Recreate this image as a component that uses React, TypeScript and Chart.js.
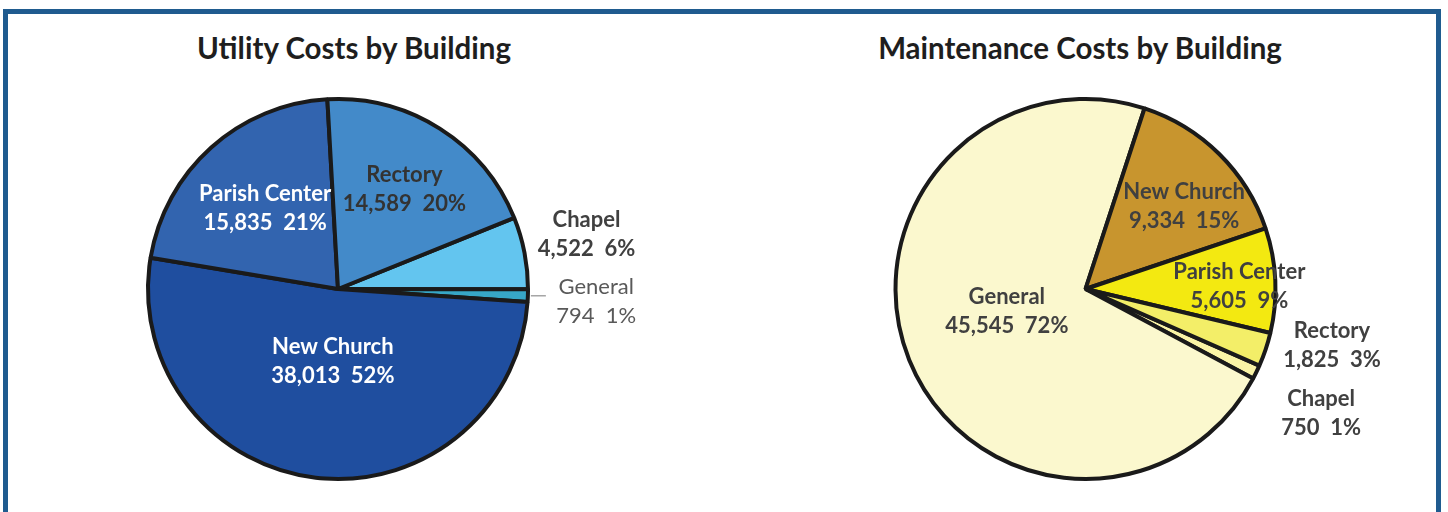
import React, { useEffect, useRef } from "react";
import { Chart, registerables } from "chart.js";

Chart.register(...registerables);

// ---------- data ----------
const buildings = ["Chapel", "General", "New Church", "Parish Center", "Rectory"];
const utilityValues = [4522, 794, 38013, 15835, 14589];
const maintenanceValues = [750, 45545, 9334, 5605, 1825];
const utilityTitle = "Utility Costs by Building";
const maintenanceTitle = "Maintenance Costs by Building";

// ---------- styles ----------
const utilityColors = ["#63C5EF", "#37A7C7", "#1F4E9F", "#3264AF", "#438AC9"];
const maintenanceColors = ["#FAF4A6", "#FBF8CE", "#C8952E", "#F3E911", "#F3EE68"];

const utilityTextColors = ["#404040", "#595959", "#FFFFFF", "#FFFFFF", "#333333"];
const utilityTextWeights = ["bold", "normal", "bold", "bold", "bold"];
const utilityLabelRadius = [1.34, 1.36, 0.38, 0.575, 0.635];
const utilityLabelShift = [-1.6, 0.5, -2.6, 0, 1.0];
const utilityLeader = [false, true, false, false, false];

const maintenanceTextColors = ["#404040", "#404040", "#404040", "#404040", "#404040"];
const maintenanceTextWeights = ["bold", "bold", "bold", "bold", "bold"];
const maintenanceLabelRadius = [1.4, 0.43, 0.68, 0.81, 1.33];
const maintenanceLabelShift = [1.7, 6.3, 5.0, 1.5, -5.9];
const maintenanceLeader = [false, false, false, false, false];

const FONT = "Lato, 'Open Sans', sans-serif";

type LabelOpts = {
  colors: string[];
  weights: string[];
  radius: number[];
  shift: number[];
  leader: boolean[];
  size: number;
  gap: number;
};

const sliceLabelPlugin = {
  id: "sliceLabels",
  afterDatasetsDraw(chart: any, _args: any, opts: LabelOpts) {
    const ctx: CanvasRenderingContext2D = chart.ctx;
    const meta = chart.getDatasetMeta(0);
    const values = chart.data.datasets[0].data as number[];
    const labels = chart.data.labels as string[];
    const total = values.reduce((a, b) => a + b, 0);
    ctx.save();
    meta.data.forEach((el: any, i: number) => {
      const p = el.getProps(["x", "y", "startAngle", "endAngle", "outerRadius"], true);
      const midRaw = (p.startAngle + p.endAngle) / 2;
      const mid = midRaw + (opts.shift[i] * Math.PI) / 180;
      const d = p.outerRadius * opts.radius[i];
      const ax = p.x + d * Math.cos(mid);
      const ay = p.y + d * Math.sin(mid);
      const pct = Math.round((values[i] / total) * 100);
      const line1 = labels[i];
      const line2 = `${values[i].toLocaleString("en-US")}  ${pct}%`;
      const cap = opts.size * 0.72;
      ctx.font = `${opts.weights[i]} ${opts.size}px ${FONT}`;
      ctx.fillStyle = opts.colors[i];
      ctx.textAlign = "center";
      ctx.textBaseline = "alphabetic";
      ctx.fillText(line1, ax, ay - opts.gap / 2 + cap / 2);
      ctx.fillText(line2, ax, ay + opts.gap / 2 + cap / 2);
      if (opts.leader[i]) {
        const ex = p.x + (p.outerRadius + 3) * Math.cos(midRaw);
        const ey = p.y + (p.outerRadius + 3) * Math.sin(midRaw);
        ctx.strokeStyle = "#A6A6A6";
        ctx.lineWidth = 1.5;
        ctx.beginPath();
        ctx.moveTo(ex, ey);
        ctx.lineTo(ex + 15, ey);
        ctx.stroke();
      }
    });
    ctx.restore();
  },
};

type PieProps = {
  left: number;
  width: number;
  values: number[];
  colors: string[];
  rotation: number;
  labelOpts: LabelOpts;
};

function PieCanvas({ left, width, values, colors, rotation, labelOpts }: PieProps) {
  const ref = useRef<HTMLCanvasElement | null>(null);
  useEffect(() => {
    if (!ref.current) return;
    const chart = new Chart(ref.current, {
      type: "pie",
      data: {
        labels: buildings,
        datasets: [
          {
            data: values,
            backgroundColor: colors,
            borderColor: "#1A1A1A",
            borderWidth: 4,
            radius: 190,
          } as any,
        ],
      },
      options: {
        responsive: false,
        animation: false,
        events: [],
        rotation,
        layout: { padding: { top: 66, left: 0, right: 0, bottom: 0 } },
        plugins: {
          legend: { display: false },
          tooltip: { enabled: false },
          title: { display: false },
          sliceLabels: labelOpts,
        } as any,
      },
      plugins: [sliceLabelPlugin as any],
    });
    return () => chart.destroy();
  }, []);
  return (
    <canvas
      ref={ref}
      width={width}
      height={512}
      style={{ position: "absolute", left, top: 0, width, height: 512 }}
    />
  );
}

function Title({ text, centerX }: { text: string; centerX: number }) {
  return (
    <div
      style={{
        position: "absolute",
        left: centerX - 300,
        top: 33,
        width: 600,
        textAlign: "center",
        fontFamily: FONT,
        fontWeight: "bold",
        fontSize: 29.5,
        lineHeight: "29.5px",
        color: "#1E1E1E",
        whiteSpace: "nowrap",
      }}
    >
      {text}
    </div>
  );
}

export default function App() {
  return (
    <div
      style={{
        position: "absolute",
        left: 0,
        top: 0,
        width: 1448,
        height: 512,
        overflow: "hidden",
        background: "#FFFFFF",
      }}
    >
      <div
        style={{
          position: "absolute",
          left: 3,
          top: 9,
          width: 1438,
          height: 540,
          boxSizing: "border-box",
          border: "5px solid #1F5B8F",
        }}
      />
      <Title text={utilityTitle} centerX={354} />
      <Title text={maintenanceTitle} centerX={1080} />
      <PieCanvas
        left={0}
        width={676}
        values={utilityValues}
        colors={utilityColors}
        rotation={68}
        labelOpts={{
          colors: utilityTextColors,
          weights: utilityTextWeights,
          radius: utilityLabelRadius,
          shift: utilityLabelShift,
          leader: utilityLeader,
          size: 22,
          gap: 29,
        }}
      />
      <PieCanvas
        left={755}
        width={661}
        values={maintenanceValues}
        colors={maintenanceColors}
        rotation={113.8}
        labelOpts={{
          colors: maintenanceTextColors,
          weights: maintenanceTextWeights,
          radius: maintenanceLabelRadius,
          shift: maintenanceLabelShift,
          leader: maintenanceLeader,
          size: 22,
          gap: 29,
        }}
      />
    </div>
  );
}
